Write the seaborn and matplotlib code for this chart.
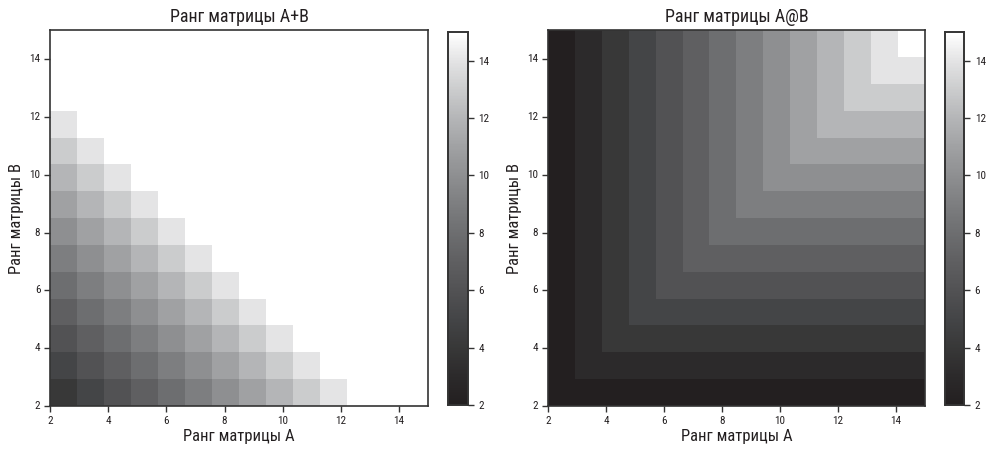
import numpy as np
import matplotlib
matplotlib.use("Agg")
import matplotlib.pyplot as plt
import seaborn as sns

# ranks of A and B (matrices are 15x15)
ranks = [2, 3, 4, 5, 6, 7, 8, 9, 10, 11, 12, 13, 14, 15]
tick_vals = [2, 4, 6, 8, 10, 12, 14]

# rank(A+B), rows = rank B (2..15), columns = rank A (2..15)
rank_sum = [
    [4, 5, 6, 7, 8, 9, 10, 11, 12, 13, 14, 15, 15, 15],
    [5, 6, 7, 8, 9, 10, 11, 12, 13, 14, 15, 15, 15, 15],
    [6, 7, 8, 9, 10, 11, 12, 13, 14, 15, 15, 15, 15, 15],
    [7, 8, 9, 10, 11, 12, 13, 14, 15, 15, 15, 15, 15, 15],
    [8, 9, 10, 11, 12, 13, 14, 15, 15, 15, 15, 15, 15, 15],
    [9, 10, 11, 12, 13, 14, 15, 15, 15, 15, 15, 15, 15, 15],
    [10, 11, 12, 13, 14, 15, 15, 15, 15, 15, 15, 15, 15, 15],
    [11, 12, 13, 14, 15, 15, 15, 15, 15, 15, 15, 15, 15, 15],
    [12, 13, 14, 15, 15, 15, 15, 15, 15, 15, 15, 15, 15, 15],
    [13, 14, 15, 15, 15, 15, 15, 15, 15, 15, 15, 15, 15, 15],
    [14, 15, 15, 15, 15, 15, 15, 15, 15, 15, 15, 15, 15, 15],
    [15, 15, 15, 15, 15, 15, 15, 15, 15, 15, 15, 15, 15, 15],
    [15, 15, 15, 15, 15, 15, 15, 15, 15, 15, 15, 15, 15, 15],
    [15, 15, 15, 15, 15, 15, 15, 15, 15, 15, 15, 15, 15, 15],
]

# rank(A@B)
rank_prod = [
    [2, 2, 2, 2, 2, 2, 2, 2, 2, 2, 2, 2, 2, 2],
    [2, 3, 3, 3, 3, 3, 3, 3, 3, 3, 3, 3, 3, 3],
    [2, 3, 4, 4, 4, 4, 4, 4, 4, 4, 4, 4, 4, 4],
    [2, 3, 4, 5, 5, 5, 5, 5, 5, 5, 5, 5, 5, 5],
    [2, 3, 4, 5, 6, 6, 6, 6, 6, 6, 6, 6, 6, 6],
    [2, 3, 4, 5, 6, 7, 7, 7, 7, 7, 7, 7, 7, 7],
    [2, 3, 4, 5, 6, 7, 8, 8, 8, 8, 8, 8, 8, 8],
    [2, 3, 4, 5, 6, 7, 8, 9, 9, 9, 9, 9, 9, 9],
    [2, 3, 4, 5, 6, 7, 8, 9, 10, 10, 10, 10, 10, 10],
    [2, 3, 4, 5, 6, 7, 8, 9, 10, 11, 11, 11, 11, 11],
    [2, 3, 4, 5, 6, 7, 8, 9, 10, 11, 12, 12, 12, 12],
    [2, 3, 4, 5, 6, 7, 8, 9, 10, 11, 12, 13, 13, 13],
    [2, 3, 4, 5, 6, 7, 8, 9, 10, 11, 12, 13, 14, 14],
    [2, 3, 4, 5, 6, 7, 8, 9, 10, 11, 12, 13, 14, 15],
]

titles = ["Ранг матрицы A+B", "Ранг матрицы A@B"]

plt.rcParams['font.family'] = ['Roboto Condensed', 'Liberation Sans Narrow',
                               'DejaVu Sans Condensed', 'DejaVu Sans']
plt.rcParams['font.stretch'] = 'condensed'
edge = "#333333"
txt = "#231f20"
# grey ramp
cmap = sns.blend_palette(["#231f20", "#2c2a2b", "#383838", "#444547", "#525254",
                          "#5f5f61", "#6d6e70", "#7d7e80", "#8e8f91", "#a0a1a3",
                          "#b4b5b7", "#cbcccd", "#e3e3e4", "#ffffff"], as_cmap=True)

fig = plt.figure(figsize=(9.89, 4.54), dpi=100)
axes = [fig.add_axes([0.0506, 0.1057, 0.3822, 0.828]),
        fig.add_axes([0.554, 0.1057, 0.3812, 0.828])]
caxes = [fig.add_axes([0.453, 0.1079, 0.0202, 0.8216]),
         fig.add_axes([0.9555, 0.1079, 0.0195, 0.8216])]

n = len(ranks)
lo, hi = ranks[0], ranks[-1]
# position of a rank value along the heatmap's cell axis (extent 2..15)
pos = [(v - lo) * n / (hi - lo) for v in tick_vals]

for ax, cax, data, title in zip(axes, caxes, [rank_sum, rank_prod], titles):
    sns.heatmap(np.array(data), ax=ax, cbar_ax=cax, cmap=cmap, vmin=2, vmax=15,
                square=False, cbar_kws={"ticks": tick_vals})
    ax.invert_yaxis()
    ax.set_xticks(pos)
    ax.set_xticklabels(tick_vals, rotation=0)
    ax.set_yticks(pos)
    ax.set_yticklabels(tick_vals, rotation=0)
    ax.tick_params(axis="both", direction="out", length=4, width=1, color=edge,
                   labelsize=8, labelcolor=txt, pad=3)
    for s in ax.spines.values():
        s.set_visible(True)
        s.set_color(edge)
        s.set_linewidth(1.2)
    ax.set_xlabel("Ранг матрицы A", fontsize=12, color=txt, labelpad=2)
    ax.set_ylabel("Ранг матрицы B", fontsize=12, color=txt)
    ax.set_title(title, fontsize=13, color=txt, pad=6)

    cax.tick_params(direction="out", length=4, width=1, color=edge,
                    labelsize=8, labelcolor=txt)
    cax.set_yticklabels(tick_vals)
    for s in cax.spines.values():
        s.set_visible(True)
        s.set_color(edge)
        s.set_linewidth(1.2)

fig.savefig("out.png", dpi=100)
